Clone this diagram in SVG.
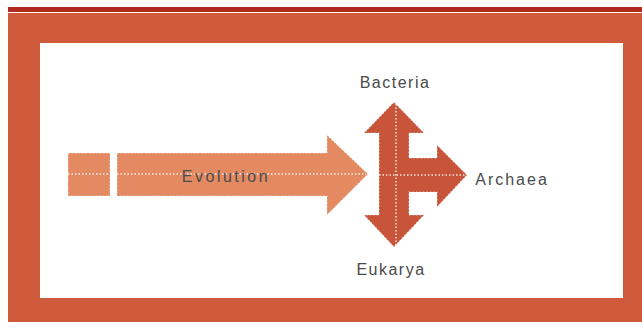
<svg xmlns="http://www.w3.org/2000/svg" width="642" height="322" viewBox="0 0 642 322">
  <style>
    .lbl { font-family: "Liberation Sans", Arial, sans-serif; font-size: 16px; fill: #4a4a4a; letter-spacing: 1.5px; text-anchor: middle; }
    .dots { fill: none; stroke: #ffffff; stroke-width: 1.5; stroke-dasharray: 1.5 2; opacity: 0.85; }
    .edge { stroke: #ffffff; stroke-width: 1.2; stroke-dasharray: 1.5 2; stroke-opacity: 0.6; }
  </style>
  <rect x="0" y="0" width="642" height="322" fill="#ffffff"/>
  <g id="frame">
    <rect x="8" y="7" width="634" height="5" fill="#B02A20"/>
    <rect x="8" y="13" width="634" height="309" fill="#CF5B3C"/>
    <rect x="40" y="43" width="583" height="255" fill="#ffffff"/>
  </g>
  <g id="evolution">
    <rect class="edge" x="68" y="153" width="42" height="43" fill="#E48A62"/>
    <polygon class="edge" points="117,153 327,153 327,135 368,174 327,215 327,196 117,196" fill="#E48A62"/>
    <line class="dots" x1="68" y1="174" x2="110" y2="174"/>
    <line class="dots" x1="117" y1="174" x2="366" y2="174"/>
    <text class="lbl" x="226" y="182" style="letter-spacing:2.5px">Evolution</text>
  </g>
  <g id="branch">
    <polygon class="edge" points="394,102 424,133 409,133 409,158 437,158 437,145 467,175 437,207 437,192 409,192 409,215 424,215 394,247 364,215 379,215 379,133 364,133" fill="#C8553A"/>
  </g>
  <g id="connectors">
    <line class="dots" x1="396" y1="104" x2="396" y2="245"/>
    <line class="dots" x1="379" y1="175" x2="465" y2="175"/>
  </g>
  <g id="bacteria"><text class="lbl" x="395" y="88">Bacteria</text></g>
  <g id="archaea"><text class="lbl" x="512" y="185" style="letter-spacing:2px">Archaea</text></g>
  <g id="eukarya"><text class="lbl" x="391" y="275">Eukarya</text></g>
</svg>
